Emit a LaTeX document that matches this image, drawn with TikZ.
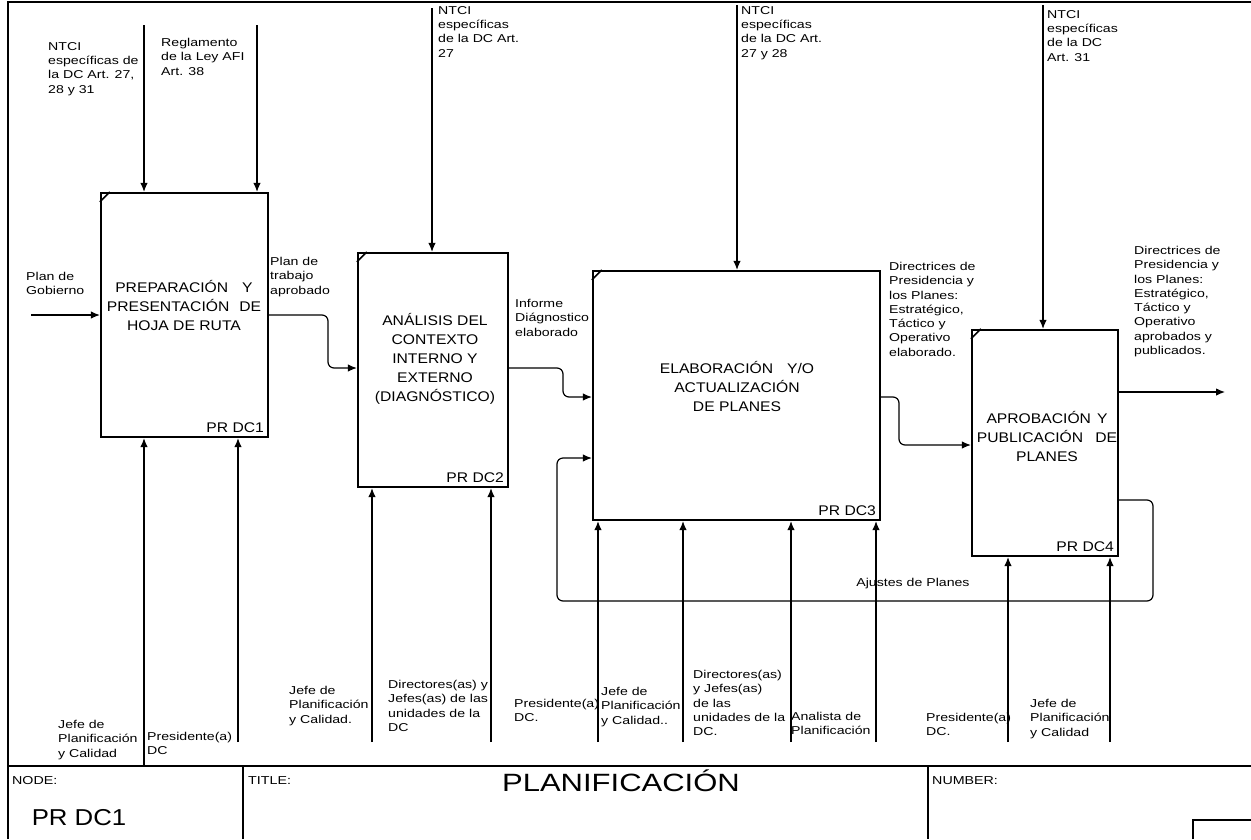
\documentclass[tikz,border=0pt]{standalone}
\usepackage{fontspec}
\setmainfont{Liberation Sans}
\newfontfamily\lblfont[FakeStretch=1.24]{Liberation Sans}
\newfontfamily\boxfont[FakeStretch=1.12]{Liberation Sans}
\usetikzlibrary{arrows.meta}
\tikzset{
  pbox/.style={draw, line width=2.2pt, inner sep=0pt},
  cmark/.style={line width=1.6pt},
  arr/.style={line width=1.2pt, -{Latex[length=9pt,width=7.5pt]}},
  conn/.style={arr, rounded corners=6pt},
  lbl/.style={font=\lblfont\fontsize{11.4}{14.3}\selectfont, align=left, inner sep=0pt, anchor=north west},
  btxt/.style={font=\boxfont\fontsize{14}{19}\selectfont, align=center, inner sep=0pt, anchor=north},
  tag/.style={font=\boxfont\fontsize{14}{16}\selectfont, inner sep=0pt, anchor=south east},
  frame/.style={line width=1.4pt},
  ftxt/.style={font=\lblfont\fontsize{11.5}{13}\selectfont, inner sep=0pt, anchor=north west}
}
\newcommand\cornermark[1]{\draw[cmark] ([yshift=-10pt]#1.north west) -- ([xshift=10pt]#1.north west);}
\begin{document}
\begin{tikzpicture}[x=1pt,y=-1pt]
\useasboundingbox (0,0) rectangle (1251,839);
% frame and footer
\draw[frame] (8,839) -- (8,2) -- (1251,2);
\draw[frame] (8,766) -- (1251,766);
\draw[frame] (243,766) -- (243,839);
\draw[frame] (928,766) -- (928,839);
\draw[frame] (1193,839) |- (1251,820);
\node[ftxt] (fnode) at (12,776) {NODE:};
\node[ftxt] (ftitle) at (248,776) {TITLE:};
\node[ftxt] (fnum) at (932,776) {NUMBER:};
\node[font=\lblfont\fontsize{25}{28}\selectfont, inner sep=0pt, anchor=north] (ftit) at (621,770) {PLANIFICACIÓN};
\node[font=\boxfont\fontsize{23}{26}\selectfont, inner sep=0pt, anchor=north] (fpr) at (79,809) {PR DC1};

% boxes
\node[pbox, minimum width=167pt, minimum height=244pt] (b1) at (184.5,315) {};
\node[pbox, minimum width=150pt, minimum height=234pt] (b2) at (433,370) {};
\node[pbox, minimum width=287pt, minimum height=249pt] (b3) at (736.5,395.5) {};
\node[pbox, minimum width=146pt, minimum height=226pt] (b4) at (1045,443) {};
\cornermark{b1}\cornermark{b2}\cornermark{b3}\cornermark{b4}

\node[btxt] (t1) at (184,280) {PREPARACIÓN\hspace{14pt}Y\\PRESENTACIÓN\hspace{10pt}DE\\HOJA DE RUTA};
\node[btxt] (t2) at (435,313) {ANÁLISIS DEL\\CONTEXTO\\INTERNO Y\\EXTERNO\\(DIAGNÓSTICO)};
\node[btxt] (t3) at (737,361) {ELABORACIÓN\hspace{14pt}Y/O\\ACTUALIZACIÓN\\DE PLANES};
\node[btxt] (t4) at (1047,411) {APROBACIÓN\hspace{6pt}Y\\PUBLICACIÓN\hspace{12pt}DE\\PLANES};

\node[tag] (g1) at ([xshift=-5pt,yshift=5pt]b1.south east) {PR DC1};
\node[tag] (g2) at ([xshift=-5pt,yshift=5pt]b2.south east) {PR DC2};
\node[tag] (g3) at ([xshift=-5pt,yshift=5pt]b3.south east) {PR DC3};
\node[tag] (g4) at ([xshift=-5pt,yshift=5pt]b4.south east) {PR DC4};

% controls from top
\coordinate (m1a) at (144,25);
\coordinate (m1b) at (257,25);
\coordinate (m2) at (432,8);
\coordinate (m3) at (737,5);
\coordinate (m4) at (1043,5);
\draw[arr] (m1a) -- (m1a |- b1.north);
\draw[arr] (m1b) -- (m1b |- b1.north);
\draw[arr] (m2) -- (m2 |- b2.north);
\draw[arr] (m3) -- (m3 |- b3.north);
\draw[arr] (m4) -- (m4 |- b4.north);

% mechanisms from bottom
\coordinate (k1a) at (144,766);
\coordinate (k1b) at (238,742);
\coordinate (k2a) at (372,742);
\coordinate (k2b) at (491,742);
\coordinate (k3a) at (598,742);
\coordinate (k3b) at (683,742);
\coordinate (k3c) at (791,742);
\coordinate (k3d) at (876,742);
\coordinate (k4a) at (1008,742);
\coordinate (k4b) at (1110,742);
\draw[arr] (k1a) -- (k1a |- b1.south);
\draw[arr] (k1b) -- (k1b |- b1.south);
\draw[arr] (k2a) -- (k2a |- b2.south);
\draw[arr] (k2b) -- (k2b |- b2.south);
\draw[arr] (k3a) -- (k3a |- b3.south);
\draw[arr] (k3b) -- (k3b |- b3.south);
\draw[arr] (k3c) -- (k3c |- b3.south);
\draw[arr] (k3d) -- (k3d |- b3.south);
\draw[arr] (k4a) -- (k4a |- b4.south);
\draw[arr] (k4b) -- (k4b |- b4.south);

% inputs / outputs
\coordinate (i1) at (31,315);
\draw[arr] (i1) -- (b1.west |- i1);
\draw[conn] (b1.east |- 0,315) -- (328,315) -- (328,368) -- (b2.west |- 0,368);
\draw[conn] (b2.east |- 0,368) -- (563,368) -- (563,397) -- (b3.west |- 0,397);
\draw[conn] (b3.east |- 0,397) -- (899,397) -- (899,445) -- (b4.west |- 0,445);
\coordinate (o4) at (1225,392);
\draw[arr] (b4.east |- o4) -- (o4);
\draw[conn] (b4.east |- 0,500) -- (1153,500) -- (1153,601) -- (557,601) -- (557,458) -- (b3.west |- 0,458);

% labels top
\node[lbl] (l1) at (48,42) {NTCI\\específicas de\\la DC Art. 27,\\28 y 31};
\node[lbl] (l2) at (161,38) {Reglamento\\de la Ley AFI\\Art. 38};
\node[lbl] (l3) at (438,6) {NTCI\\específicas\\de la DC Art.\\27};
\node[lbl] (l4) at (741,6) {NTCI\\específicas\\de la DC Art.\\27 y 28};
\node[lbl] (l5) at (1047,10) {NTCI\\específicas\\de la DC\\Art. 31};
% labels flows
\node[lbl] (l6) at (26,272) {Plan de\\Gobierno};
\node[lbl] (l7) at (270,257) {Plan de\\trabajo\\aprobado};
\node[lbl] (l8) at (515,299) {Informe\\Diágnostico\\elaborado};
\node[lbl] (l9) at (889,262) {Directrices de\\Presidencia y\\los Planes:\\Estratégico,\\Táctico y\\Operativo\\elaborado.};
\node[lbl] (l10) at (1134,246) {Directrices de\\Presidencia y\\los Planes:\\Estratégico,\\Táctico y\\Operativo\\aprobados y\\publicados.};
\node[lbl, anchor=north] (l11) at (913,578) {Ajustes de Planes};
% labels bottom
\node[lbl] (n1) at (58,720) {Jefe de\\Planificación\\y Calidad};
\node[lbl] (n2) at (147,732) {Presidente(a)\\DC};
\node[lbl] (n3) at (289,686) {Jefe de\\Planificación\\y Calidad.};
\node[lbl] (n4) at (388,680) {Directores(as) y\\Jefes(as) de las\\unidades de la\\DC};
\node[lbl] (n5) at (514,699) {Presidente(a)\\DC.};
\node[lbl] (n6) at (601,687) {Jefe de\\Planificación\\y Calidad..};
\node[lbl] (n7) at (693,670) {Directores(as)\\y Jefes(as)\\de las\\unidades de la\\DC.};
\node[lbl] (n8) at (791,712) {Analista de\\Planificación};
\node[lbl] (n9) at (926,713) {Presidente(a)\\DC.};
\node[lbl] (n10) at (1030,699) {Jefe de\\Planificación\\y Calidad};
\end{tikzpicture}
\end{document}
